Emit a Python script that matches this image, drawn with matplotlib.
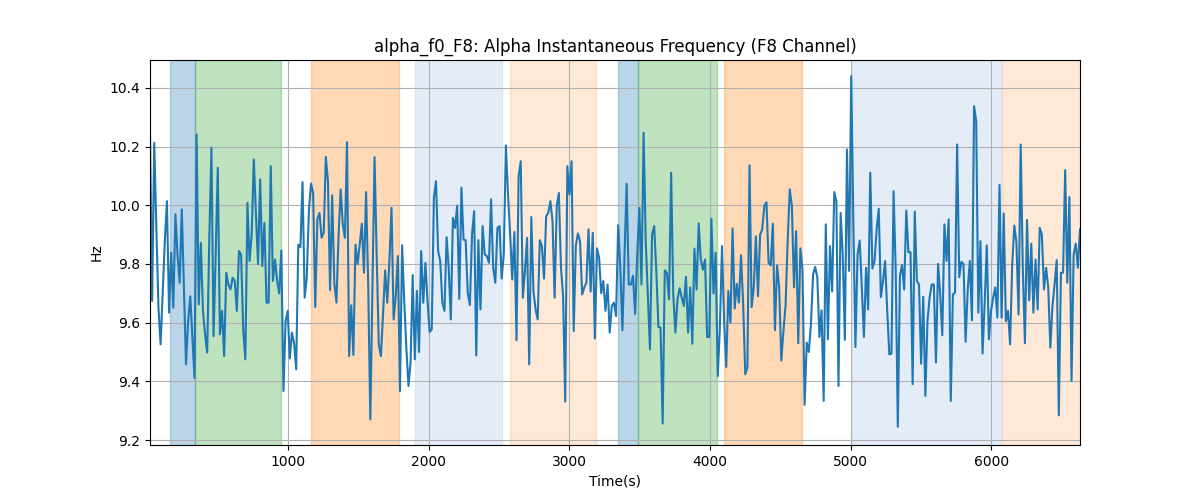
import numpy as np
import matplotlib.pyplot as plt

# alpha frequency (Hz), one sample every ~15 s
freq = [
    10.247, 9.674, 10.213, 9.92, 9.65, 9.526, 9.70, 9.88, 10.014, 9.634,
    9.838, 9.651, 9.969, 9.83, 9.736, 9.986, 9.72, 9.458, 9.605, 9.69,
    9.549, 9.412, 10.241, 9.662, 9.872, 9.640, 9.56, 9.498, 9.889, 10.196,
    9.554, 9.832, 10.128, 9.56, 9.64, 9.486, 9.77, 9.73, 9.713, 9.753,
    9.742, 9.64, 9.844, 9.832, 9.577, 9.475, 10.008, 9.81, 9.90, 10.156,
    9.97, 9.80, 10.088,
    9.793, 9.94, 9.668, 9.668, 10.133, 9.742, 9.815, 9.742, 9.70, 9.846,
    9.367, 9.605, 9.64, 9.478, 9.566, 9.53, 9.441, 9.866, 9.857, 10.079,
    9.685, 9.753, 9.98, 10.074, 10.042, 9.653, 9.952, 9.974, 9.889, 9.906,
    10.165, 10.082, 9.711, 10.034, 9.736, 9.668, 9.894, 10.054, 9.935, 9.889,
    10.215, 9.486, 9.659, 9.49, 9.866, 9.80, 9.866, 9.937, 9.77, 10.045,
    9.73, 9.27, 9.72, 10.164,
    9.83, 9.526, 9.486, 9.628, 9.778, 9.668, 9.81, 9.991, 9.611, 9.69,
    9.827, 9.367, 9.864, 9.674, 9.515, 9.384, 9.464, 9.762, 9.475, 9.708,
    9.50, 9.844, 9.668, 9.804, 9.674, 9.568, 9.577, 10.025, 10.082, 9.844,
    9.81, 9.668, 9.64, 9.891, 9.787, 9.611, 9.957, 9.923, 9.999, 9.681,
    10.06, 9.883, 9.881, 9.70, 9.66, 9.90, 9.98, 9.488, 9.881, 9.645,
    9.929, 9.832, 9.827, 9.804, 10.02,
    9.787, 9.736, 9.923, 9.929, 9.75, 9.832, 10.204, 10.037, 9.90, 9.747,
    9.909, 9.54, 10.099, 10.15, 9.685, 9.776, 9.889, 9.458, 9.96, 9.708,
    9.645, 9.611, 9.881, 9.861, 9.75, 9.962, 9.974, 10.014, 9.946, 9.685,
    9.997, 10.042, 9.787, 9.69, 9.331, 10.133, 10.037, 10.15, 9.571, 9.861,
    9.904, 9.878, 9.696, 9.72, 9.736, 9.918, 9.706, 9.906, 9.546, 9.853,
    9.821, 9.70, 9.742, 9.64, 9.73,
    9.566, 9.657, 9.668, 9.622, 9.932, 9.787, 9.574, 9.832, 10.073, 9.73,
    9.73, 9.759, 9.63, 9.832, 9.991, 9.73, 10.247, 9.878, 9.696, 9.509,
    9.90, 9.929, 9.776, 9.585, 9.583, 9.256, 9.778, 9.77, 9.679, 10.111,
    9.696, 9.566, 9.679, 9.717, 9.685, 9.657, 9.756, 9.566, 9.72, 9.528,
    9.852, 9.713, 9.938, 9.815, 9.781, 9.815, 9.551, 9.551, 9.954, 9.70,
    9.838, 9.418, 9.583, 9.861,
    9.605, 9.449, 9.708, 9.60, 9.921, 9.648, 9.732, 9.668, 9.83, 9.662,
    9.424, 9.447, 10.136, 9.653, 9.72, 9.894, 9.69, 9.90, 9.918, 9.999,
    10.01, 9.804, 9.795, 9.937, 9.574, 9.795, 9.72, 9.471, 9.571, 9.657,
    9.878, 10.054, 9.997, 9.72, 9.912, 9.53, 9.853, 9.781, 9.32, 9.532,
    9.50, 9.596, 9.764, 9.79, 9.754, 9.551, 9.642, 9.333, 9.935, 9.543,
    9.861, 9.706,
    10.045, 10.014, 9.384, 9.974, 9.832, 9.541, 10.19, 9.776, 10.44, 9.946,
    9.517, 9.832, 9.88, 9.72, 9.551, 9.787, 9.645, 10.111, 9.784, 9.81,
    9.918, 9.988, 9.687, 9.742, 9.81, 9.64, 9.492, 9.494, 10.048, 9.781,
    9.245, 9.759, 9.796, 9.713, 9.982, 9.84, 9.84, 9.39, 9.978, 9.742,
    9.73, 9.46, 9.688, 9.35, 9.605, 9.685, 9.73, 9.73, 9.464, 9.80,
    9.696, 9.557, 9.935, 9.81, 9.952, 9.333,
    9.696, 9.702, 10.207, 9.755, 9.807, 9.80, 9.535, 9.713, 9.81, 9.608,
    10.338, 10.286, 9.634, 9.878, 9.495, 9.668, 9.863, 9.543, 9.64, 9.685,
    9.72, 9.617, 10.069, 9.617, 9.972, 9.605, 9.64, 9.526, 9.798, 9.931,
    9.872, 9.628, 10.207, 9.787, 9.53, 9.95, 9.676, 9.869, 9.634, 9.815,
    9.645, 9.923, 9.90, 9.713, 9.787, 9.72, 9.515, 9.657, 9.73, 9.813,
    9.284, 9.77, 9.77, 10.12, 9.736, 10.028, 9.401, 9.832, 9.869, 9.787,
    9.918,
]
t_start = 20.0
t_step = 15.06

# shaded phases: (start, end, colour, alpha)
spans = [
    (161, 343, "tab:blue", 0.3),
    (343, 948, "tab:green", 0.3),
    (1164, 1787, "tab:orange", 0.3),
    (1903, 2520, "#aec7e8", 0.33),
    (2579, 3188, "tab:orange", 0.17),
    (3347, 3492, "tab:blue", 0.3),
    (3492, 4049, "tab:green", 0.3),
    (4101, 4653, "tab:orange", 0.3),
    (5009, 6071, "#aec7e8", 0.33),
    (6075, 6640, "tab:orange", 0.17),
]

time = t_start + t_step * np.arange(len(freq))

fig, ax = plt.subplots(figsize=(12, 5), dpi=100)
for a, b, c, al in spans:
    ax.axvspan(a, b, color=c, alpha=al)
ax.plot(time, freq, color="tab:blue", linewidth=1.5)
ax.set_xlim(time[0], time[-1])
ax.set_ylim(9.183, 10.495)
ax.grid(True)
ax.set_title("alpha_f0_F8: Alpha Instantaneous Frequency (F8 Channel)")
ax.set_xlabel("Time(s)")
ax.set_ylabel("Hz")
fig.savefig("out.png")
